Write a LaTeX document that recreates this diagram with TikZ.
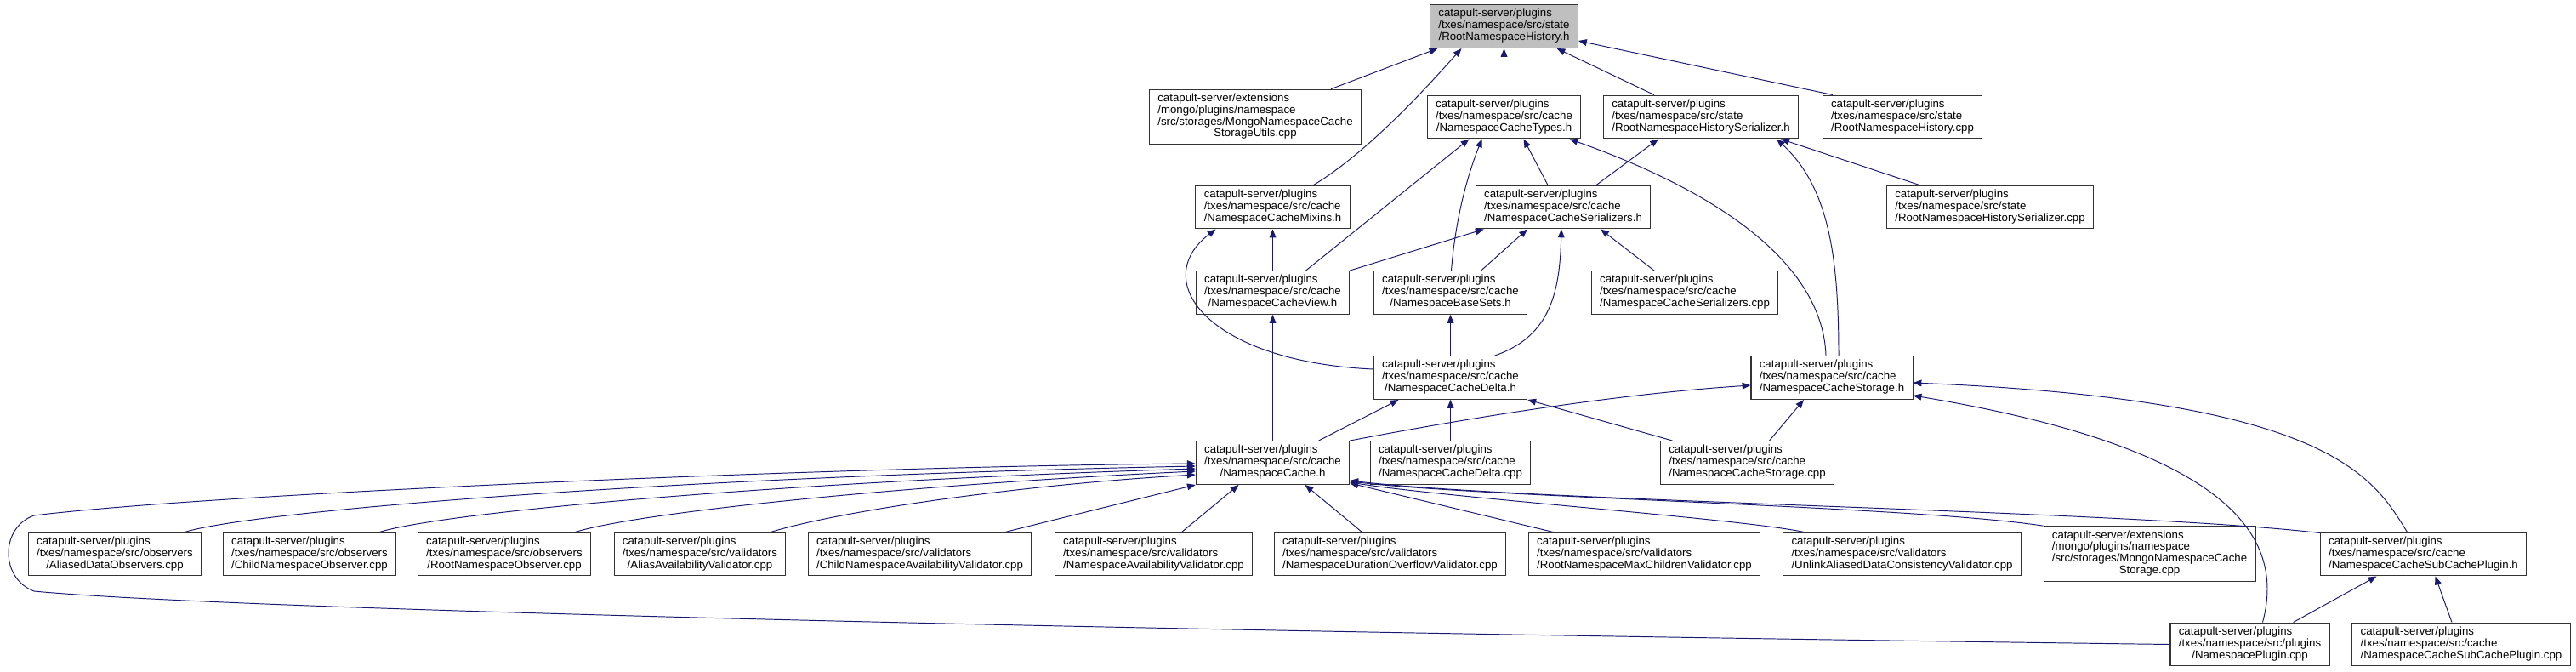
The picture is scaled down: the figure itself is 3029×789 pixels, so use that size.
\documentclass[tikz,border=0pt]{standalone}
\usepackage{fontspec}
\setmainfont{Liberation Sans}
\usetikzlibrary{arrows.meta,calc}
\definecolor{edgeblue}{HTML}{191970}
\newcommand{\flbl}[2]{\begin{tabular}{@{}l@{}}#1\\\multicolumn{1}{@{}c@{}}{#2}\end{tabular}}

\begin{document}
\begin{tikzpicture}[x=0.02cm,y=-0.02cm,
  filebox/.style={draw=black!80,line width=0.6pt,fill=white,inner xsep=5.6pt,inner ysep=2.7pt,
    font=\fontsize{7.55}{7.85}\selectfont},
  incl/.style={draw=edgeblue,line width=0.55pt,-{Triangle[length=5.6pt,width=4.4pt]}}]
\useasboundingbox (0,0) rectangle (3029,789);

\node[filebox,fill=black!25] (root) at (1768.5,31) {\flbl{catapult-server/plugins\\/txes/namespace/src/state}{/RootNamespaceHistory.h}};

\node[filebox] (mongoutils) at (1476,137.5) {\flbl{catapult-server/extensions\\/mongo/plugins/namespace\\/src/storages/MongoNamespaceCache}{StorageUtils.cpp}};
\node[filebox] (types) at (1768.5,137.5) {\flbl{catapult-server/plugins\\/txes/namespace/src/cache}{/NamespaceCacheTypes.h}};
\node[filebox] (histser) at (2000,137.5) {\flbl{catapult-server/plugins\\/txes/namespace/src/state}{/RootNamespaceHistorySerializer.h}};
\node[filebox] (histcpp) at (2237,137.5) {\flbl{catapult-server/plugins\\/txes/namespace/src/state}{/RootNamespaceHistory.cpp}};

\node[filebox] (mixins) at (1496.5,243.5) {\flbl{catapult-server/plugins\\/txes/namespace/src/cache}{/NamespaceCacheMixins.h}};
\node[filebox] (serial) at (1838,243.5) {\flbl{catapult-server/plugins\\/txes/namespace/src/cache}{/NamespaceCacheSerializers.h}};
\node[filebox] (histsercpp) at (2340,243.5) {\flbl{catapult-server/plugins\\/txes/namespace/src/state}{/RootNamespaceHistorySerializer.cpp}};

\node[filebox] (view) at (1496.5,344) {\flbl{catapult-server/plugins\\/txes/namespace/src/cache}{/NamespaceCacheView.h}};
\node[filebox] (basesets) at (1705.5,344) {\flbl{catapult-server/plugins\\/txes/namespace/src/cache}{/NamespaceBaseSets.h}};
\node[filebox] (serialcpp) at (1981,344) {\flbl{catapult-server/plugins\\/txes/namespace/src/cache}{/NamespaceCacheSerializers.cpp}};

\node[filebox] (delta) at (1705.5,444) {\flbl{catapult-server/plugins\\/txes/namespace/src/cache}{/NamespaceCacheDelta.h}};
\node[filebox] (storage) at (2154,444) {\flbl{catapult-server/plugins\\/txes/namespace/src/cache}{/NamespaceCacheStorage.h}};

\node[filebox] (cache) at (1496.5,544) {\flbl{catapult-server/plugins\\/txes/namespace/src/cache}{/NamespaceCache.h}};
\node[filebox] (deltacpp) at (1705.5,544) {\flbl{catapult-server/plugins\\/txes/namespace/src/cache}{/NamespaceCacheDelta.cpp}};
\node[filebox] (storagecpp) at (2054.5,544) {\flbl{catapult-server/plugins\\/txes/namespace/src/cache}{/NamespaceCacheStorage.cpp}};

\node[filebox] (aliasedobs) at (135,651.5) {\flbl{catapult-server/plugins\\/txes/namespace/src/observers}{/AliasedDataObservers.cpp}};
\node[filebox] (childobs) at (364,651.5) {\flbl{catapult-server/plugins\\/txes/namespace/src/observers}{/ChildNamespaceObserver.cpp}};
\node[filebox] (rootobs) at (593,651.5) {\flbl{catapult-server/plugins\\/txes/namespace/src/observers}{/RootNamespaceObserver.cpp}};
\node[filebox] (aliasval) at (823,651.5) {\flbl{catapult-server/plugins\\/txes/namespace/src/validators}{/AliasAvailabilityValidator.cpp}};
\node[filebox] (childval) at (1081.5,651.5) {\flbl{catapult-server/plugins\\/txes/namespace/src/validators}{/ChildNamespaceAvailabilityValidator.cpp}};
\node[filebox] (nsval) at (1356.5,651.5) {\flbl{catapult-server/plugins\\/txes/namespace/src/validators}{/NamespaceAvailabilityValidator.cpp}};
\node[filebox] (durval) at (1634.5,651.5) {\flbl{catapult-server/plugins\\/txes/namespace/src/validators}{/NamespaceDurationOverflowValidator.cpp}};
\node[filebox] (maxval) at (1933.5,651.5) {\flbl{catapult-server/plugins\\/txes/namespace/src/validators}{/RootNamespaceMaxChildrenValidator.cpp}};
\node[filebox] (unlinkval) at (2236.5,651.5) {\flbl{catapult-server/plugins\\/txes/namespace/src/validators}{/UnlinkAliasedDataConsistencyValidator.cpp}};
\node[filebox] (mongostorage) at (2527.5,651) {\flbl{catapult-server/extensions\\/mongo/plugins/namespace\\/src/storages/MongoNamespaceCache}{Storage.cpp}};
\node[filebox] (subcacheh) at (2849.5,651.5) {\flbl{catapult-server/plugins\\/txes/namespace/src/cache}{/NamespaceCacheSubCachePlugin.h}};

\node[filebox] (plugincpp) at (2645.5,757.5) {\flbl{catapult-server/plugins\\/txes/namespace/src/plugins}{/NamespacePlugin.cpp}};
\node[filebox] (subcachecpp) at (2894,757.5) {\flbl{catapult-server/plugins\\/txes/namespace/src/cache}{/NamespaceCacheSubCachePlugin.cpp}};

\draw[incl] ($(mongoutils.north)+(89,0)$) -- ($(root.south)+(-78,0)$);
\draw[incl] ($(mixins.north)+(48,0)$) .. controls (1610,178) and (1680,100) .. ($(root.south)+(-50,0)$);
\draw[incl] (types.north) -- (root.south);
\draw[incl] ($(histser.north)+(-55,0)$) -- ($(root.south)+(62,0)$);
\draw[incl] ($(histcpp.north)+(-82,0)$) -- ($(root.east)+(0,17)$);

\draw[incl] ($(view.north)+(39,0)$) -- ($(types.south)+(-41,0)$);
\draw[incl] ($(basesets.north)+(1,0)$) .. controls (1712,250) and (1728,200) .. ($(types.south)+(-26,0)$);
\draw[incl] ($(serial.north)+(-18,0)$) -- ($(types.south)+(23,0)$);
\draw[incl] ($(storage.north)+(-7,0)$) .. controls (2144,330) and (2060,240) .. ($(types.south)+(77,0)$);

\draw[incl] ($(serial.north)+(39,0)$) -- ($(histser.south)+(-50,0)$);
\draw[incl] ($(storage.north)+(8,0)$) .. controls (2162,300) and (2150,220) .. ($(histser.south)+(89,0)$);
\draw[incl] ($(histsercpp.north)+(-83,0)$) -- ($(histser.south)+(94,0)$);

\draw[incl] (view.north east) -- ($(serial.south west)+(10,0)$);
\draw[incl] ($(basesets.north)+(36,0)$) -- ($(serial.south)+(-42,0)$);
\draw[incl] ($(delta.north)+(52,0)$) .. controls (1825,395) and (1834,340) .. ($(serial.south)+(-2,0)$);
\draw[incl] ($(serialcpp.north)+(-36,0)$) -- ($(serial.south)+(44,0)$);

\draw[incl] (view.north) -- (mixins.south);
\draw[incl] ($(delta.west)+(0,-10)$) .. controls (1420,425) and (1350,330) .. ($(mixins.south)+(-67,0)$);
\draw[incl] (delta.north) -- (basesets.south);

\draw[incl] (cache.north) -- (view.south);
\draw[incl] ($(cache.north)+(54,0)$) -- ($(delta.south)+(-61,0)$);
\draw[incl] (deltacpp.north) -- (delta.south);
\draw[incl] ($(storagecpp.north)+(-88,0)$) -- (delta.south east);

\draw[incl] (cache.north east) .. controls (1760,485) and (1920,462) .. ($(storage.west)+(0,9)$);
\draw[incl] ($(storagecpp.north)+(26,0)$) -- ($(storage.south)+(-33,0)$);
\draw[incl] ($(plugincpp.north)+(15,0)$) .. controls (2685,640) and (2640,530) .. ($(storage.east)+(0,21)$);
\draw[incl] ($(subcacheh.north)+(-19,0)$) .. controls (2790,560) and (2740,470) .. ($(storage.east)+(0,6)$);

\draw[incl] ($(aliasedobs.north)+(82,0)$) .. controls (300,600) and (800,560) .. ($(cache.west)+(0,4)$);
\draw[incl] ($(childobs.north)+(82,0)$) .. controls (530,600) and (950,565) .. ($(cache.west)+(0,7)$);
\draw[incl] ($(rootobs.north)+(83,0)$) .. controls (760,600) and (1100,568) .. ($(cache.west)+(0,10)$);
\draw[incl] ($(aliasval.north)+(83,0)$) .. controls (990,600) and (1200,570) .. ($(cache.west)+(0,14)$);
\draw[incl] ($(childval.north)+(100,0)$) -- (cache.south west);
\draw[incl] ($(nsval.north)+(33,0)$) -- ($(cache.south)+(-40,0)$);
\draw[incl] ($(durval.north)+(-33,0)$) -- ($(cache.south)+(38,0)$);
\draw[incl] ($(maxval.north)+(-107,0)$) -- ($(cache.south east)+(0,-2)$);
\draw[incl] ($(unlinkval.north)+(-115,0)$) .. controls (2050,610) and (1700,585) .. ($(cache.south east)+(0,-3)$);
\draw[incl] (mongostorage.north west) .. controls (2250,595) and (1750,585) .. ($(cache.south east)+(0,-4)$);
\draw[incl] ($(subcacheh.west)+(0,-25)$) .. controls (2500,600) and (1800,590) .. ($(cache.south east)+(0,-5)$);
\draw[incl] (plugincpp.west) .. controls (1200,740) and (250,715) .. (40,695)
  .. controls (0,680) and (0,620) .. (40,606)
  .. controls (250,580) and (1000,548) .. ($(cache.west)+(0,1)$);

\draw[incl] ($(plugincpp.north)+(51,0)$) -- ($(subcacheh.south)+(-55,0)$);
\draw[incl] ($(subcachecpp.north)+(-11,0)$) -- ($(subcacheh.south)+(14,0)$);
\end{tikzpicture}
\end{document}
